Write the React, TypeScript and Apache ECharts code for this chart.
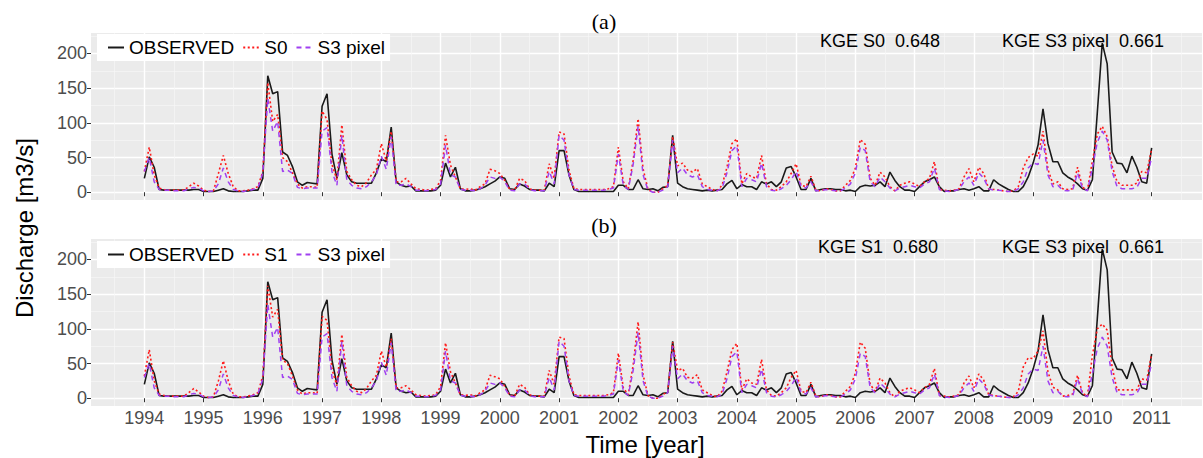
import React, { useEffect, useRef } from "react";
import * as echarts from "echarts";

const START_YEAR = 1994;
const yearTicks = [1994, 1995, 1996, 1997, 1998, 1999, 2000, 2001, 2002, 2003, 2004, 2005, 2006, 2007, 2008, 2009, 2010, 2011];
const minorYearTicks = [1993.5, 1994.5, 1995.5, 1996.5, 1997.5, 1998.5, 1999.5, 2000.5, 2001.5, 2002.5, 2003.5, 2004.5, 2005.5, 2006.5, 2007.5, 2008.5, 2009.5, 2010.5, 2011.5];
const yTicks = [0, 50, 100, 150, 200];
const yMinorTicks = [25, 75, 125, 175, 225];

// monthly discharge, Jan 1994 .. Jan 2011
const observed = [
  20, 51, 36, 4, 3, 3, 3, 3, 3, 3, 4, 4,
  1, 1, 1, 3, 5, 2, 1, 1, 1, 2, 3, 3,
  20, 168, 142, 145, 58, 53, 37, 15, 10, 14, 13, 12,
  124, 142, 55, 20, 57, 25, 15, 13, 13, 13, 13, 28,
  48, 44, 94, 15, 10, 8, 9, 2, 2, 2, 2, 3,
  10, 42, 22, 36, 5, 2, 2, 3, 5, 8, 12, 16,
  22, 20, 5, 4, 12, 9, 4, 3, 3, 2, 13, 8,
  60, 60, 25, 4, 1, 1, 1, 1, 1, 1, 1, 1,
  10, 10, 4, 4, 18, 5, 4, 5, 2, 7, 8, 82,
  13, 8, 5, 4, 3, 2, 3, 2, 3, 4, 12, 17,
  5, 11, 8, 8, 4, 15, 12, 15, 8, 15, 35, 37,
  22, 4, 4, 20, 2, 4, 5, 5, 4, 4, 2, 3,
  1, 8, 10, 9, 10, 15, 8, 29, 17, 8, 3, 3,
  1, 8, 15, 18, 22, 8, 1, 2, 2, 4, 5, 3,
  5, 8, 2, 2, 18, 12, 8, 4, 1, 1, 8, 22,
  42, 68, 120, 70, 44, 44, 28, 22, 18, 12, 5, 3,
  18, 115, 215, 185, 58, 42, 41, 28, 52, 36, 15, 13,
  64,
];

const s0 = [
  30, 65, 25, 6, 4, 3, 3, 3, 3, 8, 13, 9,
  3, 1, 2, 27, 53, 27, 8, 2, 2, 3, 5, 8,
  30, 158, 102, 112, 50, 44, 28, 12, 6, 8, 8, 7,
  117, 105, 40, 18, 97, 30, 18, 10, 8, 14, 25, 33,
  70, 45, 88, 15, 15, 20, 12, 5, 4, 3, 4, 5,
  17, 82, 39, 22, 5, 4, 5, 3, 8, 12, 33, 31,
  27, 17, 4, 3, 20, 17, 5, 3, 3, 3, 41, 20,
  87, 84, 32, 5, 4, 4, 4, 4, 4, 4, 5, 8,
  65, 15, 5, 46, 106, 34, 4, 0, 0, 5, 10, 80,
  38, 42, 32, 29, 34, 12, 8, 4, 2, 10, 36, 70,
  77, 12, 27, 22, 20, 53, 12, 4, 3, 8, 15, 27,
  41, 10, 8, 23, 3, 2, 5, 4, 2, 2, 10, 17,
  35, 76, 69, 20, 10, 29, 22, 8, 2, 10, 13, 15,
  12, 8, 15, 20, 44, 4, 3, 2, 3, 5, 22, 34,
  15, 36, 27, 5, 4, 3, 2, 1, 2, 8, 35, 50,
  55, 52, 88, 33, 12, 15, 5, 4, 5, 36, 7, 3,
  45, 84, 95, 80, 38, 15, 10, 10, 10, 13, 30, 28,
  62,
];

const s1 = [
  32, 70, 25, 6, 4, 3, 3, 3, 3, 8, 14, 9,
  3, 1, 2, 25, 54, 25, 6, 2, 2, 3, 5, 8,
  32, 162, 117, 128, 55, 50, 32, 12, 6, 8, 8, 7,
  118, 112, 42, 18, 92, 30, 18, 10, 8, 14, 25, 33,
  68, 45, 86, 15, 15, 18, 12, 5, 4, 3, 4, 5,
  17, 80, 38, 22, 5, 4, 5, 3, 8, 12, 33, 31,
  28, 17, 4, 3, 20, 16, 5, 3, 3, 3, 40, 20,
  88, 86, 32, 5, 4, 4, 4, 4, 4, 4, 5, 8,
  65, 15, 5, 48, 110, 34, 4, 0, 0, 5, 10, 81,
  40, 43, 30, 29, 34, 12, 8, 4, 2, 10, 38, 70,
  79, 12, 28, 22, 20, 56, 12, 4, 3, 8, 15, 30,
  40, 10, 8, 23, 3, 2, 5, 4, 2, 2, 10, 17,
  36, 81, 72, 20, 10, 29, 22, 8, 2, 10, 13, 15,
  12, 8, 15, 20, 43, 4, 3, 2, 3, 5, 22, 32,
  15, 35, 26, 5, 4, 3, 2, 1, 2, 10, 45, 58,
  57, 68, 97, 38, 16, 12, 3, 4, 6, 33, 7, 3,
  62, 100, 107, 98, 45, 12, 12, 12, 12, 12, 28, 26,
  64,
];

const s3pixel = [
  30, 50, 15, 4, 3, 3, 2, 2, 2, 5, 7, 6,
  2, 1, 2, 12, 35, 15, 4, 2, 1, 2, 4, 6,
  28, 135, 88, 102, 30, 32, 27, 7, 5, 6, 6, 6,
  88, 93, 30, 10, 82, 18, 10, 6, 5, 8, 15, 25,
  52, 33, 80, 10, 10, 12, 8, 3, 3, 2, 3, 4,
  12, 68, 25, 22, 4, 3, 3, 2, 5, 10, 22, 20,
  22, 15, 3, 2, 12, 12, 4, 2, 2, 2, 30, 12,
  82, 75, 25, 4, 3, 3, 3, 3, 3, 3, 4, 6,
  55, 10, 4, 40, 95, 25, 3, 0, 0, 3, 8, 75,
  28, 35, 25, 22, 25, 8, 4, 3, 2, 6, 28, 60,
  67, 8, 20, 18, 15, 42, 8, 3, 2, 5, 10, 18,
  30, 8, 6, 15, 2, 2, 4, 3, 2, 2, 6, 12,
  28, 65, 60, 15, 8, 22, 15, 6, 2, 6, 8, 10,
  8, 6, 12, 15, 35, 4, 2, 1, 2, 4, 15, 22,
  10, 28, 20, 5, 3, 3, 2, 1, 1, 5, 15, 35,
  42, 40, 75, 25, 8, 10, 3, 2, 3, 28, 6, 2,
  35, 72, 88, 75, 30, 8, 5, 5, 5, 7, 20, 20,
  50,
];

const SANS = "'Liberation Sans', Arial, Helvetica, sans-serif";
const SERIF = "'Liberation Serif', 'Times New Roman', serif";
const X_MIN = 1993.1;
const X_MAX = 2011.85;
const Y_MIN = -11.2;
const Y_MAX = 229.5;

export default function App() {
  const ref = useRef<HTMLDivElement>(null);
  useEffect(() => {
    if (!ref.current) return;
    const chart = echarts.init(ref.current, null, { renderer: "svg" });
    const t = observed.map((_, i) => START_YEAR + i / 12);
    const pair = (arr: number[]) => arr.map((v, i) => [t[i], v]);

    const mkX = (gridIndex: number, showLabels: boolean) => ({
      type: "value",
      gridIndex,
      min: X_MIN,
      max: X_MAX,
      axisLine: { show: false },
      axisTick: { show: true, length: 4, lineStyle: { color: "#333", width: 1 }, customValues: yearTicks },
      axisLabel: {
        show: showLabels,
        customValues: yearTicks,
        fontSize: 18,
        color: "#4d4d4d",
        margin: 3,
        fontFamily: SANS,
        formatter: (v: number) => String(v),
      },
      splitLine: { show: true, lineStyle: { color: "#ffffff", width: 1.4 } },
    });
    const mkXMinor = (gridIndex: number) => ({
      type: "value",
      gridIndex,
      min: X_MIN,
      max: X_MAX,
      position: "top",
      axisLine: { show: false },
      axisTick: { show: false, customValues: minorYearTicks },
      axisLabel: { show: false, customValues: minorYearTicks },
      splitLine: { show: true, lineStyle: { color: "#f7f7f7", width: 0.7 } },
    });
    const mkY = (gridIndex: number) => ({
      type: "value",
      gridIndex,
      min: Y_MIN,
      max: Y_MAX,
      axisLine: { show: false },
      axisTick: { show: true, length: 4, lineStyle: { color: "#333", width: 1 }, customValues: yTicks },
      axisLabel: { customValues: yTicks, fontSize: 18, color: "#4d4d4d", margin: 4, fontFamily: SANS },
      splitLine: { show: true, lineStyle: { color: "#ffffff", width: 1.4 } },
    });
    const mkYMinor = (gridIndex: number) => ({
      type: "value",
      gridIndex,
      min: Y_MIN,
      max: Y_MAX,
      position: "right",
      axisLine: { show: false },
      axisTick: { show: false, customValues: yMinorTicks },
      axisLabel: { show: false, customValues: yMinorTicks },
      splitLine: { show: true, lineStyle: { color: "#f7f7f7", width: 0.7 } },
    });

    const obsStyle = { color: "#1a1a1a", width: 1.6, type: "solid" };
    const redStyle = { color: "#ff1a1a", width: 1.6, type: [2, 2.5] };
    const purpleStyle = { color: "#a040f0", width: 1.5, type: [5, 4] };

    const mkSeries = (name: string, data: number[], style: any, axis: number, z: number) => ({
      name,
      type: "line",
      xAxisIndex: axis,
      yAxisIndex: axis,
      data: pair(data),
      symbol: "none",
      showSymbol: false,
      lineStyle: style,
      itemStyle: { color: style.color },
      z,
    });

    const legendBase = {
      orient: "horizontal",
      left: 97,
      backgroundColor: "#ffffff",
      padding: [4, 5, 4, 10],
      itemGap: 8,
      itemWidth: 16,
      itemHeight: 14,
      selectedMode: false,
      itemStyle: { opacity: 0 },
      textStyle: { fontSize: 19, color: "#000", fontFamily: SANS },
    };

    const txt = (text: string, x: number, y: number, size: number, font: string, extra: any = {}) => ({
      type: "text",
      x,
      y,
      ...extra,
      style: { text, fontSize: size, fontFamily: font, fill: "#000", align: "center", verticalAlign: "middle" },
      z: 100,
    });

    chart.setOption({
      animation: false,
      backgroundColor: "#ffffff",
      grid: [
        { left: 91, top: 33, width: 1111, height: 167, show: true, backgroundColor: "#ebebeb", borderWidth: 0 },
        { left: 91, top: 239, width: 1111, height: 167, show: true, backgroundColor: "#ebebeb", borderWidth: 0 },
      ],
      xAxis: [mkX(0, false), mkXMinor(0), mkX(1, true), mkXMinor(1)],
      yAxis: [mkY(0), mkYMinor(0), mkY(1), mkYMinor(1)],
      legend: [
        { ...legendBase, top: 34, data: ["OBSERVED", "S0", "S3 pixel"] },
        { ...legendBase, top: 241, data: ["OBSERVED", "S1", "S3 pixel"] },
      ],
      series: [
        mkSeries("OBSERVED", observed, obsStyle, 0, 3),
        mkSeries("S0", s0, redStyle, 0, 4),
        mkSeries("S3 pixel", s3pixel, purpleStyle, 0, 5),
        mkSeries("OBSERVED", observed, obsStyle, 2, 3),
        mkSeries("S1", s1, redStyle, 2, 4),
        mkSeries("S3 pixel", s3pixel, purpleStyle, 2, 5),
      ],
      graphic: [
        txt("(a)", 604, 21, 22, SERIF),
        txt("(b)", 604, 225, 22, SERIF),
        txt("KGE S0  0.648", 880, 41, 18, SANS),
        txt("KGE S3 pixel  0.661", 1083, 41, 18, SANS),
        txt("KGE S1  0.680", 878, 247, 18, SANS),
        txt("KGE S3 pixel  0.661", 1083, 247, 18, SANS),
        txt("Discharge [m3/s]", 24, 228, 24, SANS, { rotation: Math.PI / 2 }),
        txt("Time [year]", 645, 444, 24, SANS),
      ],
    });
    return () => chart.dispose();
  }, []);
  return (
    <div
      ref={ref}
      style={{ position: "fixed", left: 0, top: 0, width: 1203, height: 458, background: "#fff" }}
    />
  );
}
